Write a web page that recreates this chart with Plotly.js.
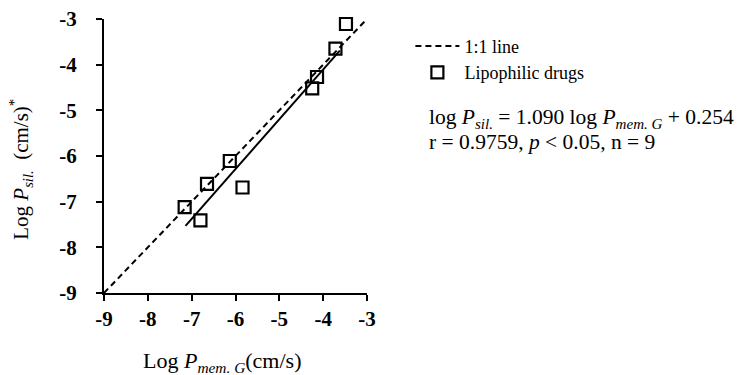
<!DOCTYPE html>
<html>
<head>
<meta charset="utf-8">
<script src="https://cdn.plot.ly/plotly-3.0.1.min.js"></script>
<style>
  html, body { margin: 0; padding: 0; background: #fff; }
  #chart { width: 741px; height: 375px; }
</style>
</head>
<body>
<div id="chart"></div>
<script>
// Log permeability: membrane G (x) vs. silicone (y), lipophilic drugs
const logPmemG = [-3.48, -3.72, -4.14, -4.25, -6.13, -5.84, -6.65, -7.16, -6.80];
const logPsil  = [-3.11, -3.65, -4.27, -4.52, -6.11, -6.69, -6.61, -7.12, -7.41];

// Regression: log Psil = slope * log PmemG + intercept
const slope = 1.090;
const intercept = 0.254;
const fitX = [-7.14, -3.62];
const fitY = fitX.map(x => slope * x + intercept);

// 1:1 reference line
const identityX = [-9, -3];
const identityY = [-9, -3];

// Axis ticks
const tickVals = [-9, -8, -7, -6, -5, -4, -3];
const tickText = ['-9', '-8', '-7', '-6', '-5', '-4', '-3'];

const serif = 'Liberation Serif';

const traces = [
  {
    x: identityX, y: identityY, type: 'scatter', mode: 'lines',
    name: '1:1 line',
    line: { color: '#000', width: 2, dash: '6px,4px' },
    cliponaxis: false
  },
  {
    x: logPmemG, y: logPsil, type: 'scatter', mode: 'markers',
    name: 'Lipophilic drugs',
    marker: { symbol: 'square-open', size: 12, color: '#000', line: { width: 2.2, color: '#000' } },
    cliponaxis: false
  },
  {
    x: fitX, y: fitY, type: 'scatter', mode: 'lines',
    showlegend: false,
    line: { color: '#000', width: 2 }
  }
];

const axisCommon = {
  range: [-9, -3],
  tickmode: 'array',
  tickvals: tickVals,
  ticktext: tickText,
  ticks: 'outside',
  ticklen: 6,
  tickwidth: 2,
  tickcolor: '#000',
  showline: true,
  linewidth: 2,
  linecolor: '#000',
  showgrid: false,
  zeroline: false,
  fixedrange: true,
  tickfont: { family: serif, size: 21, color: '#000', weight: 'bold' }
};

const layout = {
  width: 741,
  height: 375,
  margin: { l: 103.5, r: 374.3, t: 19, b: 82.3, pad: 0 },
  paper_bgcolor: '#fff',
  plot_bgcolor: '#fff',
  font: { family: serif, color: '#000' },
  xaxis: Object.assign({}, axisCommon, { ticklabelstandoff: 0 }),
  yaxis: Object.assign({}, axisCommon, { ticklabelstandoff: 15 }),
  showlegend: true,
  legend: {
    x: 1.165, y: 0.968, xanchor: 'left', yanchor: 'top',
    font: { family: serif, size: 18, color: '#000' },
    itemwidth: 44,
    bgcolor: 'rgba(0,0,0,0)'
  },
  annotations: [
    {
      xref: 'paper', yref: 'paper', x: -0.317, y: 0.452,
      xanchor: 'center', yanchor: 'middle', textangle: -90, showarrow: false,
      text: 'Log <i>P</i><sub><i>sil.</i></sub>  (cm/s)<sup>*</sup>',
      font: { family: serif, size: 21, color: '#000' }
    },
    {
      xref: 'paper', yref: 'paper', x: 0.450, y: -0.250,
      xanchor: 'center', yanchor: 'middle', showarrow: false,
      text: 'Log <i>P</i><sub><i>mem. G</i></sub>(cm/s)',
      font: { family: serif, size: 22, color: '#000' }
    },
    {
      xref: 'paper', yref: 'paper', x: 1.229, y: 0.636,
      xanchor: 'left', yanchor: 'middle', showarrow: false,
      text: 'log <i>P</i><sub><i>sil.</i></sub> = ' + slope.toFixed(3) + ' log <i>P</i><sub><i>mem. G</i></sub> + ' + intercept.toFixed(3),
      font: { family: serif, size: 21.5, color: '#000' }
    },
    {
      xref: 'paper', yref: 'paper', x: 1.229, y: 0.552,
      xanchor: 'left', yanchor: 'middle', showarrow: false,
      text: 'r = 0.9759, <i>p</i> < 0.05, n = 9',
      font: { family: serif, size: 21.5, color: '#000' }
    }
  ]
};

Plotly.newPlot('chart', traces, layout, { displayModeBar: false, staticPlot: true });
</script>
</body>
</html>
